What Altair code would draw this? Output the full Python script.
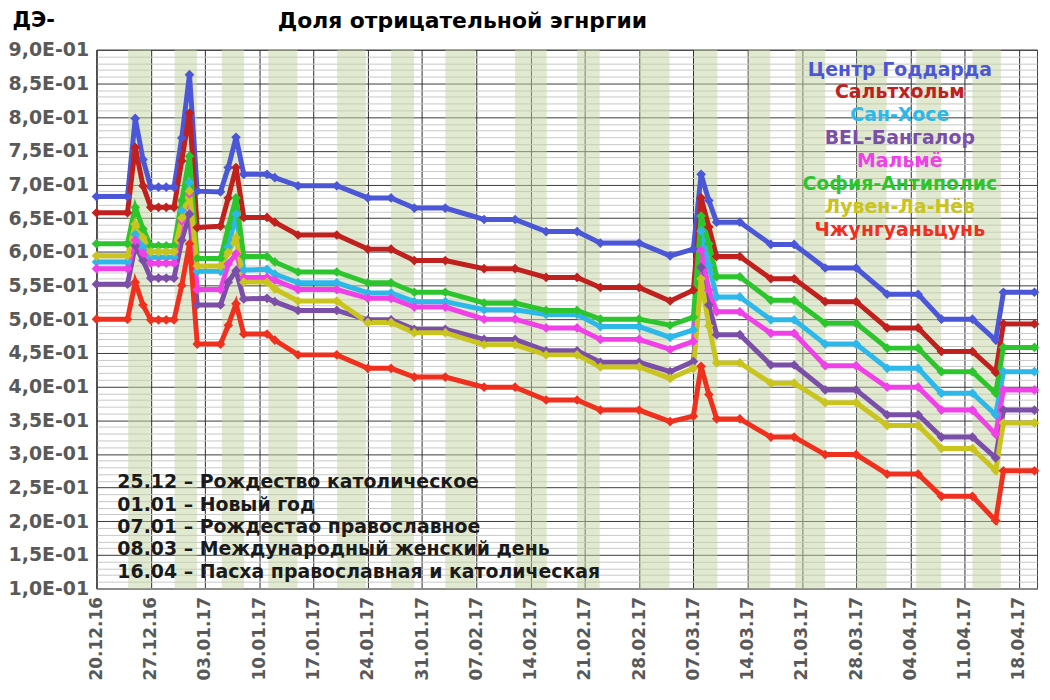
import altair as alt
import pandas as pd

# ---------------- data ----------------
dates = ["2016-12-20", "2016-12-24", "2016-12-25", "2016-12-26", "2016-12-27",
         "2016-12-28", "2016-12-29", "2016-12-30", "2016-12-31", "2017-01-01",
         "2017-01-02", "2017-01-05", "2017-01-06", "2017-01-07", "2017-01-08",
         "2017-01-11", "2017-01-12", "2017-01-15", "2017-01-20", "2017-01-24",
         "2017-01-27", "2017-01-30", "2017-02-03", "2017-02-08", "2017-02-12",
         "2017-02-16", "2017-02-20", "2017-02-23", "2017-02-28", "2017-03-04",
         "2017-03-07", "2017-03-08", "2017-03-09", "2017-03-10", "2017-03-13",
         "2017-03-17", "2017-03-20", "2017-03-24", "2017-03-28", "2017-04-01",
         "2017-04-05", "2017-04-08", "2017-04-12", "2017-04-15", "2017-04-16",
         "2017-04-20"]

goddard = [0.682, 0.682, 0.798, 0.737, 0.696, 0.696, 0.696, 0.696, 0.769, 0.863,
           0.690, 0.689, 0.725, 0.770, 0.715, 0.715, 0.710, 0.698, 0.698, 0.680,
           0.680, 0.665, 0.665, 0.648, 0.648, 0.630, 0.630, 0.613, 0.613, 0.594,
           0.604, 0.715, 0.676, 0.644, 0.644, 0.611, 0.611, 0.576, 0.576, 0.537,
           0.537, 0.500, 0.500, 0.469, 0.540, 0.540]
saltholm = [0.658, 0.658, 0.755, 0.698, 0.666, 0.666, 0.666, 0.666, 0.735, 0.806,
            0.636, 0.638, 0.680, 0.725, 0.651, 0.651, 0.644, 0.625, 0.625, 0.604,
            0.604, 0.587, 0.587, 0.575, 0.575, 0.562, 0.562, 0.547, 0.547, 0.527,
            0.543, 0.680, 0.637, 0.593, 0.593, 0.560, 0.560, 0.526, 0.526, 0.487,
            0.487, 0.452, 0.452, 0.421, 0.493, 0.493]
san_jose = [0.585, 0.585, 0.626, 0.607, 0.592, 0.592, 0.592, 0.592, 0.661, 0.703,
            0.571, 0.571, 0.607, 0.656, 0.573, 0.574, 0.567, 0.554, 0.554, 0.539,
            0.539, 0.526, 0.526, 0.514, 0.514, 0.507, 0.507, 0.489, 0.489, 0.473,
            0.484, 0.631, 0.580, 0.533, 0.533, 0.499, 0.499, 0.463, 0.463, 0.427,
            0.427, 0.390, 0.390, 0.358, 0.422, 0.422]
bangalore = [0.552, 0.552, 0.609, 0.587, 0.561, 0.561, 0.561, 0.561, 0.617, 0.656,
             0.521, 0.521, 0.555, 0.572, 0.530, 0.531, 0.526, 0.513, 0.513, 0.499,
             0.499, 0.485, 0.485, 0.470, 0.470, 0.453, 0.453, 0.436, 0.436, 0.422,
             0.437, 0.577, 0.521, 0.477, 0.477, 0.432, 0.432, 0.395, 0.395, 0.358,
             0.358, 0.325, 0.325, 0.294, 0.365, 0.365]
malmo = [0.575, 0.575, 0.617, 0.598, 0.583, 0.583, 0.583, 0.583, 0.646, 0.686,
         0.544, 0.544, 0.582, 0.597, 0.562, 0.562, 0.558, 0.544, 0.544, 0.531,
         0.531, 0.518, 0.518, 0.500, 0.500, 0.487, 0.487, 0.470, 0.470, 0.455,
         0.467, 0.602, 0.543, 0.511, 0.511, 0.479, 0.479, 0.431, 0.431, 0.399,
         0.399, 0.365, 0.365, 0.329, 0.395, 0.395]
sophia = [0.612, 0.612, 0.666, 0.634, 0.609, 0.609, 0.609, 0.609, 0.676, 0.742,
          0.590, 0.590, 0.636, 0.680, 0.593, 0.593, 0.585, 0.570, 0.570, 0.554,
          0.554, 0.540, 0.540, 0.524, 0.524, 0.513, 0.513, 0.500, 0.500, 0.491,
          0.503, 0.653, 0.612, 0.563, 0.563, 0.528, 0.528, 0.494, 0.494, 0.457,
          0.457, 0.422, 0.422, 0.390, 0.458, 0.458]
louvain = [0.594, 0.594, 0.641, 0.621, 0.600, 0.600, 0.600, 0.600, 0.650, 0.690,
           0.579, 0.579, 0.599, 0.621, 0.555, 0.555, 0.545, 0.527, 0.527, 0.495,
           0.495, 0.480, 0.480, 0.462, 0.462, 0.447, 0.447, 0.429, 0.429, 0.412,
           0.427, 0.560, 0.490, 0.435, 0.435, 0.405, 0.405, 0.376, 0.376, 0.342,
           0.342, 0.308, 0.308, 0.275, 0.346, 0.346]
zhongguancun = [0.500, 0.500, 0.555, 0.521, 0.499, 0.499, 0.499, 0.499, 0.550, 0.612,
                0.463, 0.463, 0.491, 0.523, 0.478, 0.478, 0.469, 0.447, 0.447, 0.427,
                0.427, 0.414, 0.414, 0.399, 0.399, 0.380, 0.380, 0.365, 0.365, 0.348,
                0.356, 0.430, 0.388, 0.352, 0.352, 0.325, 0.325, 0.299, 0.299, 0.270,
                0.270, 0.237, 0.237, 0.201, 0.275, 0.275]

series_names = ["Центр Годдарда", "Сальтхольм", "Сан-Хосе", "BEL-Бангалор",
                "Мальмё", "София-Антиполис", "Лувен-Ла-Нёв", "Чжунгуаньцунь"]
series_values = [goddard, saltholm, san_jose, bangalore, malmo, sophia, louvain, zhongguancun]
series_colors = ["#4B57D6", "#C0201E", "#2EB8EA", "#7B4FA8",
                 "#F040E8", "#2DC52D", "#C9C41E", "#F0301E"]

band_start = ["2016-12-24 02:00", "2016-12-30 02:00", "2017-01-05 04:00", "2017-01-11 04:00",
              "2017-01-20 01:00", "2017-01-27 00:00", "2017-02-03 00:00", "2017-02-12 00:00",
              "2017-02-20 00:00", "2017-02-28 01:00", "2017-03-07 02:00", "2017-03-14 02:00",
              "2017-03-20 03:00", "2017-03-28 01:00", "2017-04-04 18:00", "2017-04-12 00:00"]
band_end = ["2016-12-27 00:00", "2017-01-01 23:00", "2017-01-08 01:00", "2017-01-14 22:00",
            "2017-01-23 18:00", "2017-01-29 23:00", "2017-02-06 21:00", "2017-02-16 02:00",
            "2017-02-22 22:00", "2017-03-03 22:00", "2017-03-10 02:00", "2017-03-16 22:00",
            "2017-03-24 00:00", "2017-03-31 22:00", "2017-04-07 23:00", "2017-04-15 16:00"]

x_ticks = ["2016-12-20", "2016-12-27", "2017-01-03", "2017-01-10", "2017-01-17",
           "2017-01-24", "2017-01-31", "2017-02-07", "2017-02-14", "2017-02-21",
           "2017-02-28", "2017-03-07", "2017-03-14", "2017-03-21", "2017-03-28",
           "2017-04-04", "2017-04-11", "2017-04-18"]
x_range = ["2016-12-20 00:00", "2017-04-20 08:00"]

notes = ["25.12 – Рождество католическое",
         "01.01 – Новый год",
         "07.01 – Рождестао православное",
         "08.03 – Международный женский день",
         "16.04 – Пасха православная и католическая"]

title_text = "Доля отрицательной эгнргии"
y_title = "ДЭ-"


def ms(s):
    return int(pd.Timestamp(s, tz="UTC").timestamp() * 1000)


# ---------------- tables ----------------
rows = []
for name, vals in zip(series_names, series_values):
    for d, v in zip(dates, vals):
        rows.append({"date": ms(d), "series": name, "value": v})
lines_df = pd.DataFrame(rows)
bands_df = pd.DataFrame({"start": [ms(s) for s in band_start],
                         "end": [ms(s) for s in band_end]})
legend_df = pd.DataFrame({"series": series_names})
notes_df = pd.DataFrame({"note": notes})
title_df = pd.DataFrame({"t": [title_text]})

FONT = "DejaVu Sans"
GRAY = "#595959"

y_values = [round(0.10 + 0.01 * k, 2) for k in range(81)]
major_test = "abs(datum.value * 20 - round(datum.value * 20)) < 0.001"

x_axis = alt.Axis(
    values=[ms(t) for t in x_ticks],
    labelExpr="utcFormat(datum.value, '%d.%m.%y')",
    labelAngle=270, grid=True, gridColor="#2a2a2a", gridWidth=1,
    ticks=False, labelFont=FONT, labelFontSize=17, labelFontWeight="bold",
    labelColor=GRAY, labelPadding=8, domainColor="#8c8c8c", domainWidth=2,
    title=None, labelFlush=False, labelOverlap=False,
)
x_scale = alt.Scale(type="utc", domain=[ms(x_range[0]), ms(x_range[1])], nice=False)
color_scale = alt.Scale(domain=series_names, range=series_colors)

bands = alt.Chart(bands_df).mark_rect(color="#C3D4A4", opacity=0.5).encode(
    x=alt.X("start:T", scale=x_scale, axis=x_axis),
    x2="end:T",
)

lines = alt.Chart(lines_df).mark_line(
    strokeWidth=5,
    point=alt.OverlayMarkDef(shape="diamond", size=95, filled=True, opacity=1),
).encode(
    x=alt.X("date:T", scale=x_scale, axis=x_axis),
    y=alt.Y("value:Q",
            scale=alt.Scale(domain=[0.1, 0.9], nice=False, zero=False),
            axis=alt.Axis(
                values=y_values,
                labelExpr=major_test + " ? replace(format(datum.value * 10, '.1f'), '.', ',') + 'E-01' : ''",
                gridColor={"condition": {"test": major_test, "value": "#3a3a3a"}, "value": "#c8c8c8"},
                gridWidth=1, ticks=False, labelOverlap=False,
                labelFont=FONT, labelFontSize=19, labelFontWeight="bold", labelColor=GRAY,
                labelPadding=8, domainColor="#404040",
                title=y_title, titleAngle=0, titleX=-85, titleY=-29,
                titleAlign="left", titleBaseline="middle",
                titleFont=FONT, titleFontSize=21, titleFontWeight="bold", titleColor="black",
            )),
    color=alt.Color("series:N", scale=color_scale, legend=None),
)

legend_text = alt.Chart(legend_df).mark_text(
    font=FONT, fontSize=19, fontWeight="bold", align="center", baseline="middle",
).encode(
    x=alt.value(808),
    y=alt.Y("series:N", sort=series_names, axis=None,
            scale=alt.Scale(range=[20, 181], padding=0)),
    text="series:N",
    color=alt.Color("series:N", scale=color_scale, legend=None),
)

notes_text = alt.Chart(notes_df).mark_text(
    font=FONT, fontSize=19, fontWeight="bold", align="left", baseline="middle",
    color="#1a1a1a",
).encode(
    x=alt.value(21),
    y=alt.Y("note:N", sort=notes, axis=None,
            scale=alt.Scale(range=[435, 525], padding=0)),
    text="note:N",
)

title_mark = alt.Chart(title_df).mark_text(
    font=FONT, fontSize=22, fontWeight="bold", align="center", baseline="middle",
    color="black",
).encode(
    x=alt.value(368),
    y=alt.value(-29),
    text="t:N",
)

chart = alt.layer(bands, lines, legend_text, notes_text, title_mark).resolve_scale(
    y="independent"
).properties(
    width=946, height=542,
    autosize=alt.AutoSizeParams(type="none"),
    padding={"left": 89, "top": 40, "right": 5, "bottom": 100},
).configure_view(stroke="#404040", strokeWidth=1)

chart.save("out.html", embed_options={"renderer": "svg", "actions": False})
